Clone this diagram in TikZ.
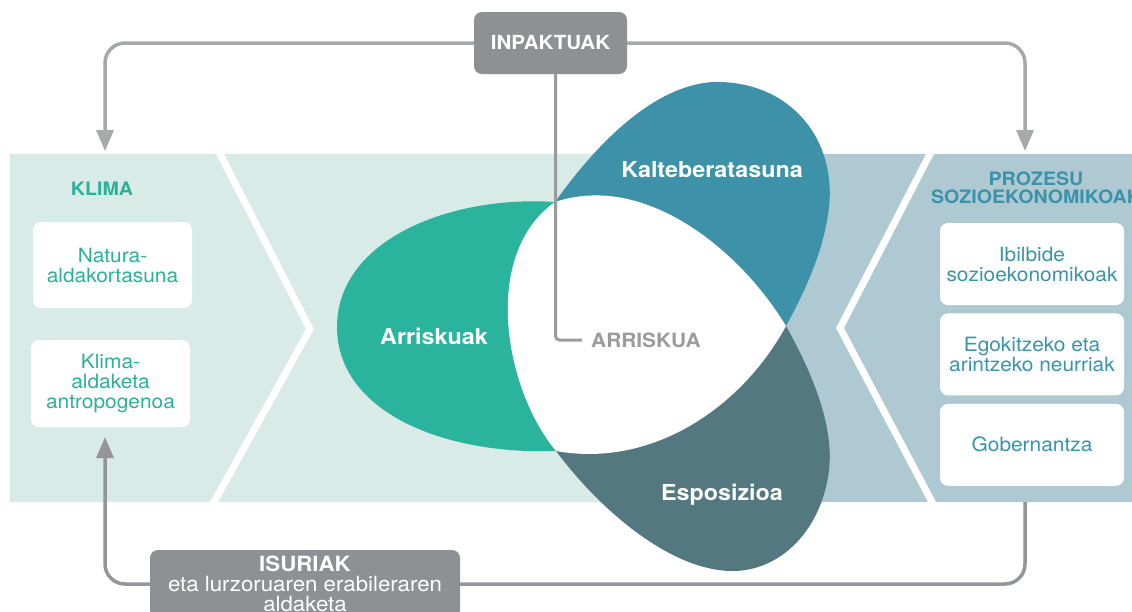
\documentclass[tikz,border=0pt]{standalone}
\usepackage{fontspec}
\setmainfont{TeX Gyre Heros}[FakeStretch=1.06]
\usetikzlibrary{arrows.meta,positioning}
\definecolor{bandgreen}{HTML}{D8EBE6}
\definecolor{bandblue}{HTML}{AFC9D3}
\definecolor{petgreen}{HTML}{2AB49D}
\definecolor{petteal}{HTML}{3D92A9}
\definecolor{petdark}{HTML}{537880}
\definecolor{boxgray}{HTML}{8F9094}
\definecolor{lngray}{HTML}{A7A8AA}
\definecolor{lndark}{HTML}{939598}
\definecolor{txtgreen}{HTML}{2BB199}
\definecolor{txtblue}{HTML}{3A93AA}
\definecolor{txtgray}{HTML}{9B9B9D}

\begin{document}
\begin{tikzpicture}[
  x=1pt, y=-1pt,
  wbox/.style={rectangle, fill=white, rounded corners=8pt, align=center,
               font=\fontsize{19.7}{20}\selectfont, inner sep=0pt},
  gbox/.style={rectangle, fill=boxgray, rounded corners=8pt, align=center,
               text=white, inner sep=0pt, font=\fontsize{21}{20}\selectfont},
  hdr/.style={font=\fontsize{18.5}{18}\selectfont\bfseries, align=center},
  petal/.style={font=\fontsize{22}{24}\selectfont\bfseries, text=white, anchor=base},
  garr/.style={draw=lngray, line width=3.5pt, rounded corners=20pt,
               -{Triangle[length=21pt,width=17pt]}},
  gline/.style={draw=lndark, line width=3.5pt, rounded corners=20pt},
  chev/.style={draw=white, line width=7pt, miter limit=10},
  node distance=8pt
]
\clip (0,0) rectangle (1132,611);
% bands
\fill[bandgreen] (10,154) rectangle (700,502);
\fill[bandblue] (700,154) rectangle (1132,502);
\draw[chev] (212.8,140) -- (310,329) -- (206.8,515);
\draw[chev] (937.2,140) -- (840,328) -- (938.9,515);
% petals
\fill[petgreen] (555,202) .. controls (450,195) and (337,240) .. (337,327)
  .. controls (337,410) and (440,455) .. (556,451) -- (600,330) -- cycle;
\fill[petteal] (555,202) .. controls (592,150) and (650,86) .. (713,82)
  .. controls (790,80) and (840,140) .. (828,215)
  .. controls (822,255) and (803,295) .. (786,326) -- (660,320) -- cycle;
\fill[petdark] (786,326) .. controls (805,360) and (835,420) .. (829,470)
  .. controls (822,530) and (780,572) .. (731,571)
  .. controls (670,570) and (600,510) .. (556,451) -- (660,340) -- cycle;
\fill[white] (555,202) .. controls (645,172) and (740,250) .. (786,326)
  .. controls (740,410) and (650,468) .. (556,451)
  .. controls (505,390) and (480,255) .. (555,202) -- cycle;
\node[petal] (kal) at (712,177) {Kalteberatasuna};
\node[petal] (ark) at (434,344) {Arriskuak};
\node[petal] (esp) at (722,500) {Esposizioa};
% top and bottom boxes
\node[gbox, minimum width=153pt, minimum height=62pt,
      font=\fontsize{19.4}{20}\selectfont\bfseries] (inp) at (550.5,43) {INPAKTUAK};
\node[gbox, minimum width=310pt, minimum height=68pt] (isu) at (305,584)
  {\textbf{ISURIAK}\\eta lurzoruaren erabileraren\\aldaketa};
\node[anchor=west, inner xsep=9pt, inner ysep=0pt, text=txtgray,
      font=\fontsize{19.7}{20}\selectfont\bfseries] (arr) at (582,340) {ARRISKUA};
% left panel
\node[hdr, text=txtgreen] (klima) at (102,189) {KLIMA};
\node[wbox, minimum width=159pt, minimum height=86pt, text=txtgreen]
  (nat) at (112.5,265) {Natura-\\aldakortasuna};
\node[wbox, minimum width=159pt, minimum height=87pt, text=txtgreen]
  (kla) at (110.5,383.5) {Klima-\\aldaketa\\antropogenoa};
% right panel
\node[hdr, text=txtblue] (proz) at (1036,188) {PROZESU\\SOZIOEKONOMIKOAK};
\node[wbox, minimum width=184pt, minimum height=82pt, text=txtblue]
  (ibi) at (1032,264) {Ibilbide\\sozioekonomikoak};
\node[wbox, minimum width=184pt, minimum height=82pt, text=txtblue,
      below=of ibi] (ego) {Egokitzeko eta\\arintzeko neurriak};
\node[wbox, minimum width=184pt, minimum height=82pt, text=txtblue,
      below=of ego] (gob) {Gobernantza};
% connectors
\coordinate (kltop) at (105,151);
\coordinate (prtop) at (1025,151);
\coordinate (klbot) at (105,437);
\coordinate (prbot) at (1025,502);
\draw[garr] (inp.west) -| (kltop);
\draw[garr] (inp.east) -| (prtop);
\draw[garr, draw=lndark] (isu.west) -| (klbot);
\draw[gline] (isu.east) -| (prbot);
\draw[draw=txtgray, line width=3pt, rounded corners=4pt]
  ([xshift=5pt]inp.south) |- (arr.west);
\end{tikzpicture}
\end{document}
